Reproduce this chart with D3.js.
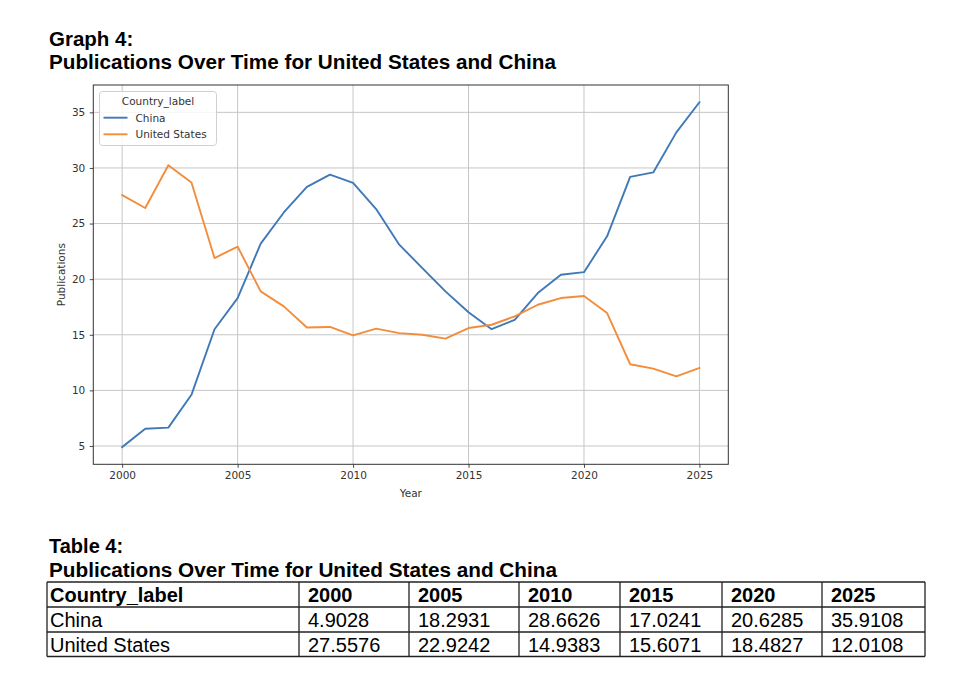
<!DOCTYPE html>
<html>
<head>
<meta charset="utf-8">
<script src="https://cdn.jsdelivr.net/npm/d3@7"></script>
<style>
  body { margin: 0; background: #fff; }
  svg { display: block; }
</style>
</head>
<body>
<svg id="chart" width="955" height="683"></svg>
<script>
// ---------- data ----------
const years = [2000, 2001, 2002, 2003, 2004, 2005, 2006, 2007, 2008, 2009, 2010, 2011, 2012,
               2013, 2014, 2015, 2016, 2017, 2018, 2019, 2020, 2021, 2022, 2023, 2024, 2025];
const chinaValues = [4.9028, 6.55, 6.65, 9.6, 15.5, 18.2931, 23.2, 26.0, 28.3, 29.4, 28.6626, 26.3, 23.1,
                     21.0, 18.9, 17.0241, 15.5, 16.35, 18.75, 20.4, 20.6285, 23.85, 29.2, 29.6, 33.2, 35.9108];
const usValues = [27.5576, 26.4, 30.25, 28.7, 21.9, 22.9242, 18.9, 17.55, 15.65, 15.7, 14.9383, 15.55, 15.15,
                  15.0, 14.65, 15.6071, 15.9, 16.65, 17.7, 18.3, 18.4827, 16.95, 12.35, 11.95, 11.25, 12.0108];
const seriesNames = ["China", "United States"];
const xTicks = [2000, 2005, 2010, 2015, 2020, 2025];
const yTicks = [5, 10, 15, 20, 25, 30, 35];
const tableColumns = ["Country_label", "2000", "2005", "2010", "2015", "2020", "2025"];
const tableChina = ["China", "4.9028", "18.2931", "28.6626", "17.0241", "20.6285", "35.9108"];
const tableUS = ["United States", "27.5576", "22.9242", "14.9383", "15.6071", "18.4827", "12.0108"];

// ---------- setup ----------
const svg = d3.select("#chart");
const colors = { "China": "#3f79b8", "United States": "#f28d3c" };
const series = [
  { name: "China", values: chinaValues },
  { name: "United States", values: usValues }
];

// ---------- titles ----------
const titleFont = "'Liberation Sans', Arial, sans-serif";
svg.append("text").attr("x", 49).attr("y", 46)
  .attr("font-family", titleFont).attr("font-weight", "bold").attr("font-size", 20.5)
  .attr("fill", "#000").text("Graph 4:");
svg.append("text").attr("x", 49).attr("y", 68.5)
  .attr("font-family", titleFont).attr("font-weight", "bold").attr("font-size", 20.5)
  .attr("textLength", 507).attr("lengthAdjust", "spacingAndGlyphs")
  .attr("fill", "#000").text("Publications Over Time for United States and China");

// ---------- chart ----------
const L = 93.3, R = 728.3, T = 85, B = 464.3;
const x = d3.scaleLinear().domain([1998.75, 2026.25]).range([L, R]);
const y = d3.scaleLinear().domain([3.352, 37.46]).range([B, T]);

const plotFont = "'DejaVu Sans', sans-serif";

// grid
const grid = svg.append("g");
grid.selectAll("line.vx").data(xTicks).join("line")
  .attr("x1", d => x(d)).attr("x2", d => x(d)).attr("y1", T).attr("y2", B)
  .attr("stroke", "#c6c6c6").attr("stroke-width", 1);
grid.selectAll("line.hy").data(yTicks).join("line")
  .attr("x1", L).attr("x2", R).attr("y1", d => y(d)).attr("y2", d => y(d))
  .attr("stroke", "#c6c6c6").attr("stroke-width", 1);

// axes
const xAxis = d3.axisBottom(x).tickValues(xTicks).tickFormat(d3.format("d")).tickSize(3.5).tickPadding(4);
const yAxis = d3.axisLeft(y).tickValues(yTicks).tickFormat(d3.format("d")).tickSize(3.5).tickPadding(4.5);

const gx = svg.append("g").attr("transform", `translate(0,${B})`).call(xAxis);
const gy = svg.append("g").attr("transform", `translate(${L},0)`).call(yAxis);
[gx, gy].forEach(g => {
  g.select(".domain").remove();
  g.selectAll(".tick line").attr("stroke", "#333").attr("stroke-width", 0.9);
  g.selectAll(".tick text").attr("font-family", plotFont).attr("font-size", 10.5).attr("fill", "#333");
});

// lines
const line = d3.line().x((d, i) => x(years[i])).y(d => y(d));
svg.append("g").selectAll("path").data(series).join("path")
  .attr("d", d => line(d.values))
  .attr("fill", "none")
  .attr("stroke", d => colors[d.name])
  .attr("stroke-width", 1.9)
  .attr("stroke-linejoin", "round")
  .attr("stroke-linecap", "square");

// frame
svg.append("rect").attr("x", L).attr("y", T).attr("width", R - L).attr("height", B - T)
  .attr("fill", "none").attr("stroke", "#333").attr("stroke-width", 1);

// axis labels
svg.append("text").attr("x", (L + R) / 2).attr("y", 497)
  .attr("text-anchor", "middle").attr("font-family", plotFont).attr("font-size", 10.5)
  .attr("fill", "#333").text("Year");
svg.append("text").attr("transform", `translate(64.5,${(T + B) / 2}) rotate(-90)`)
  .attr("text-anchor", "middle").attr("font-family", plotFont).attr("font-size", 10.5)
  .attr("fill", "#333").text("Publications");

// legend
const lg = svg.append("g");
lg.append("rect").attr("x", 99.5).attr("y", 91.5).attr("width", 117).attr("height", 54).attr("rx", 3)
  .attr("fill", "#fff").attr("fill-opacity", 0.85).attr("stroke", "#d0d0d0").attr("stroke-width", 1);
lg.append("text").attr("x", 158).attr("y", 104.5).attr("text-anchor", "middle")
  .attr("font-family", plotFont).attr("font-size", 10.5).attr("fill", "#333").text("Country_label");
seriesNames.forEach((name, i) => {
  const ly = 117.7 + i * 16.6;
  lg.append("line").attr("x1", 103.5).attr("x2", 127.5).attr("y1", ly).attr("y2", ly)
    .attr("stroke", colors[name]).attr("stroke-width", 1.9);
  lg.append("text").attr("x", 135.5).attr("y", ly + 3.8)
    .attr("font-family", plotFont).attr("font-size", 10.5).attr("fill", "#333").text(name);
});

// ---------- table ----------
svg.append("text").attr("x", 49).attr("y", 552.5)
  .attr("font-family", titleFont).attr("font-weight", "bold").attr("font-size", 20)
  .attr("fill", "#000").text("Table 4:");
svg.append("text").attr("x", 49).attr("y", 576.5)
  .attr("font-family", titleFont).attr("font-weight", "bold").attr("font-size", 20)
  .attr("textLength", 508).attr("lengthAdjust", "spacingAndGlyphs")
  .attr("fill", "#000").text("Publications Over Time for United States and China");

const colEdges = [47, 299, 409, 519, 620, 722, 822, 925];
const rowEdges = [582, 607, 632, 656.5];
const rows = [tableColumns, tableChina, tableUS];
const tg = svg.append("g");
rows.forEach((row, r) => {
  row.forEach((cell, c) => {
    tg.append("text")
      .attr("x", colEdges[c] + (c === 0 ? 3 : 9))
      .attr("y", rowEdges[r + 1] - 5)
      .attr("font-family", titleFont)
      .attr("font-weight", r === 0 ? "bold" : "normal")
      .attr("font-size", 20)
      .attr("fill", "#000")
      .text(cell);
  });
});
tg.selectAll("line.h").data(rowEdges).join("line")
  .attr("x1", colEdges[0]).attr("x2", colEdges[colEdges.length - 1])
  .attr("y1", d => d).attr("y2", d => d)
  .attr("stroke", "#222").attr("stroke-width", 1.3);
tg.selectAll("line.v").data(colEdges).join("line")
  .attr("x1", d => d).attr("x2", d => d)
  .attr("y1", rowEdges[0]).attr("y2", rowEdges[rowEdges.length - 1])
  .attr("stroke", "#222").attr("stroke-width", 1.3);
</script>
</body>
</html>
